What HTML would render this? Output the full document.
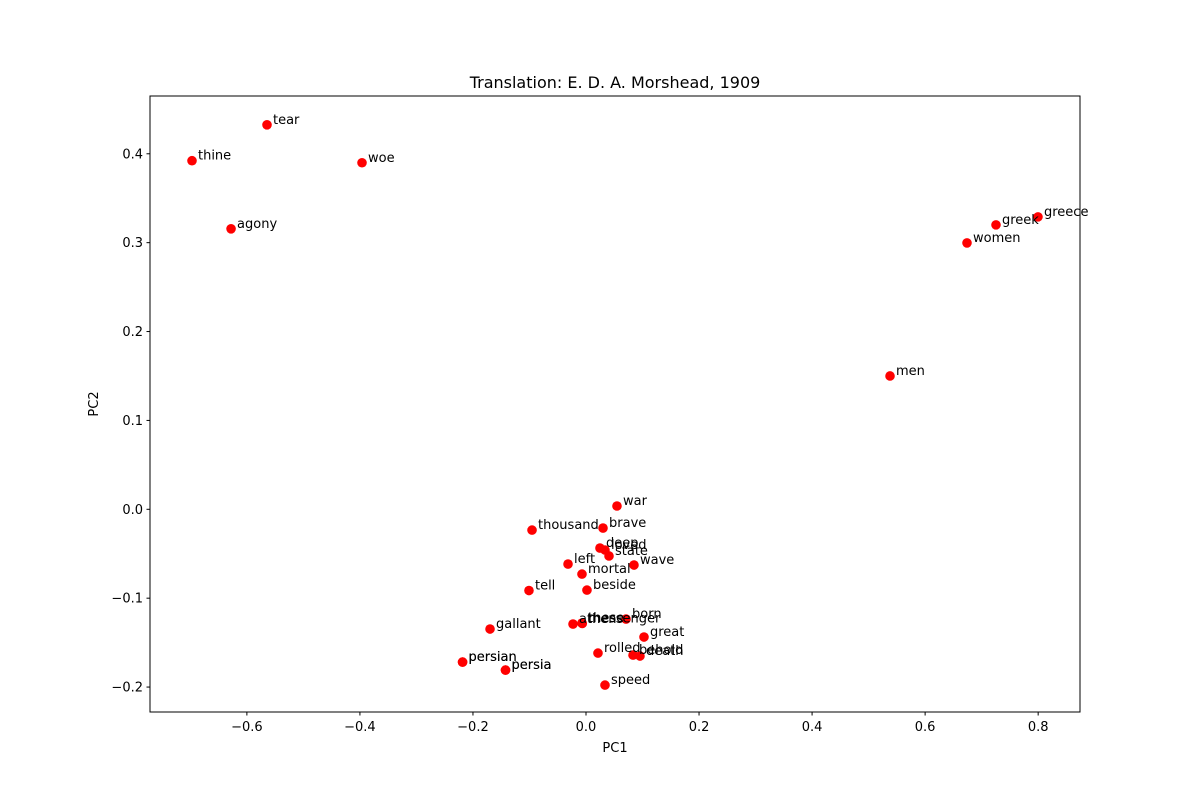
<!DOCTYPE html>
<html><head><meta charset="utf-8"><style>body{margin:0;background:#fff}svg{font-family:"DejaVu Sans","Liberation Sans",sans-serif}</style></head>
<body>
<svg id="chart" width="1200" height="800" xmlns="http://www.w3.org/2000/svg">
<rect width="1200" height="800" fill="#fff"/>
<text x="615" y="88" text-anchor="middle" font-size="16">Translation: E. D. A. Morshead, 1909</text>
<text x="615" y="752" text-anchor="middle" font-size="13">PC1</text>
<text transform="translate(98,404) rotate(-90)" text-anchor="middle" font-size="13">PC2</text>
<g id="ticks"></g><g id="points"></g>
<rect x="150" y="96" width="930" height="616" fill="none" stroke="#000" stroke-width="1"/>
</svg>
<script>
const words = ["tear","thine","woe","agony","greece","greek","women","men","war","thousand","brave","deep","loved","state","wave","left","mortal","tell","beside","gallant","athens","these","messenger","born","great","rolled","behold","death","persian","persian","persia","persia","speed"];
const pc1 = [-0.5644,-0.6971,-0.3963,-0.6280,0.7997,0.7254,0.6741,0.5379,0.0548,-0.0955,0.0301,0.0247,0.0336,0.0407,0.0849,-0.0318,-0.0071,-0.1009,0.0017,-0.1698,-0.0230,-0.0071,-0.0066,0.0708,0.1026,0.0212,0.0832,0.0955,-0.2184,-0.2184,-0.1424,-0.1424,0.0336];
const pc2 = [0.4326,0.3922,0.3899,0.3156,0.3290,0.3200,0.2997,0.1500,0.0037,-0.0234,-0.0211,-0.0436,-0.0458,-0.0525,-0.0627,-0.0616,-0.0729,-0.0914,-0.0909,-0.1347,-0.1291,-0.1280,-0.1285,-0.1235,-0.1437,-0.1618,-0.1640,-0.1651,-0.1719,-0.1719,-0.1809,-0.1809,-0.1978];
const xTicks = [-0.6,-0.4,-0.2,0.0,0.2,0.4,0.6,0.8];
const yTicks = [-0.2,-0.1,0.0,0.1,0.2,0.3,0.4];
const NS="http://www.w3.org/2000/svg";
const X = v => 586 + v*565.2;
const Y = v => 509.3 - v*888.8;
function mk(tag, attrs){const e=document.createElementNS(NS,tag);for(const k in attrs)e.setAttribute(k,attrs[k]);return e;}
const tg=document.getElementById('ticks'), pg=document.getElementById('points');
xTicks.forEach(t=>{
  const l=mk('line',{x1:X(t),x2:X(t),y1:712,y2:715.5,stroke:'#000'});
  
  
  tg.appendChild(l);
  const s=mk('text',{x:X(t),y:731,'text-anchor':'middle','font-size':13});
  
  
  s.textContent=t.toFixed(1).replace('-','−');tg.appendChild(s);
});
yTicks.forEach(t=>{
  const l=mk('line',{x1:146.5,x2:150,y1:Y(t),y2:Y(t),stroke:'#000'});
  
  
  tg.appendChild(l);
  const s=mk('text',{x:143,y:Y(t)+4.5,'text-anchor':'end','font-size':13});
  
  
  s.textContent=t.toFixed(1).replace('-','−');tg.appendChild(s);
});
words.forEach((w,i)=>{
  const c=mk('circle',{cx:X(pc1[i]),cy:Y(pc2[i]),r:4.8,fill:'#ff0000'});
  
  
  pg.appendChild(c);
});
words.forEach((w,i)=>{
  const s=mk('text',{x:X(pc1[i])+6,y:Y(pc2[i])-1,'font-size':13});
  
  
  s.textContent=w;pg.appendChild(s);
});
</script>
</body></html>
